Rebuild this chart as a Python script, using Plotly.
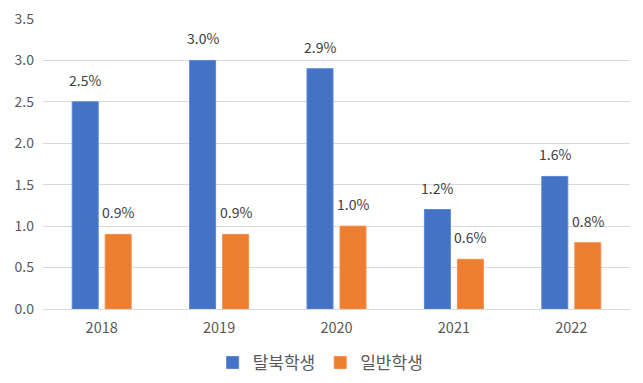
import plotly.graph_objects as go

years = ["2018", "2019", "2020", "2021", "2022"]
nk_students = [2.5, 3.0, 2.9, 1.2, 1.6]
general_students = [0.9, 0.9, 1.0, 0.6, 0.8]
series_names = ["탈북학생", "일반학생"]
y_ticks = [0.0, 0.5, 1.0, 1.5, 2.0, 2.5, 3.0, 3.5]

FONT = "Noto Sans CJK KR"
BARGAP = 0.438
BARGROUPGAP = 0.212
idx = list(range(len(years)))

fig = go.Figure()
fig.add_trace(go.Bar(x=idx, y=nk_students, name=series_names[0],
                     marker=dict(color="#4472C4", line=dict(color="#5B86D6", width=1))))
fig.add_trace(go.Bar(x=idx, y=general_students, name=series_names[1],
                     marker=dict(color="#ED7D31", line=dict(color="#F28F4B", width=1))))

off = (1 - BARGAP) / 4
annotations = []
for series, sign in ((nk_students, -1), (general_students, 1)):
    for i, v in zip(idx, series):
        annotations.append(dict(x=i + sign * off, y=v, xref="x", yref="y",
                                text=f"{v:.1f}%", showarrow=False, yanchor="bottom",
                                yshift=10, font=dict(family=FONT, size=14, color="#404040")))

fig.update_layout(
    width=643, height=383,
    margin=dict(l=43, r=13, t=19, b=74, autoexpand=False),
    paper_bgcolor="white", plot_bgcolor="white",
    barmode="group", bargap=BARGAP, bargroupgap=BARGROUPGAP,
    font=dict(family=FONT, color="#595959"),
    annotations=annotations,
    showlegend=True,
    legend=dict(orientation="h", x=0.473, xanchor="center", y=-0.186, yanchor="middle",
                font=dict(family=FONT, size=17, color="#595959"), itemwidth=30,
                traceorder="normal"),
)
fig.update_xaxes(tickmode="array", tickvals=idx, ticktext=years, range=[-0.5, 4.5],
                 showgrid=False, zeroline=False, showline=False, ticks="",
                 ticklabelstandoff=8, automargin=False,
                 tickfont=dict(family=FONT, size=14.5, color="#595959"))
fig.update_yaxes(range=[0, 3.5], tickvals=y_ticks, tickformat=".1f",
                 showgrid=True, gridcolor="#D9D9D9", gridwidth=1,
                 zeroline=True, zerolinecolor="#D9D9D9", zerolinewidth=1,
                 showline=False, ticks="", ticklabelstandoff=8, automargin=False,
                 tickfont=dict(family=FONT, size=14, color="#595959"))

fig.write_html("out.html", config={"displayModeBar": False},
               post_script="document.body.style.margin='0';")
